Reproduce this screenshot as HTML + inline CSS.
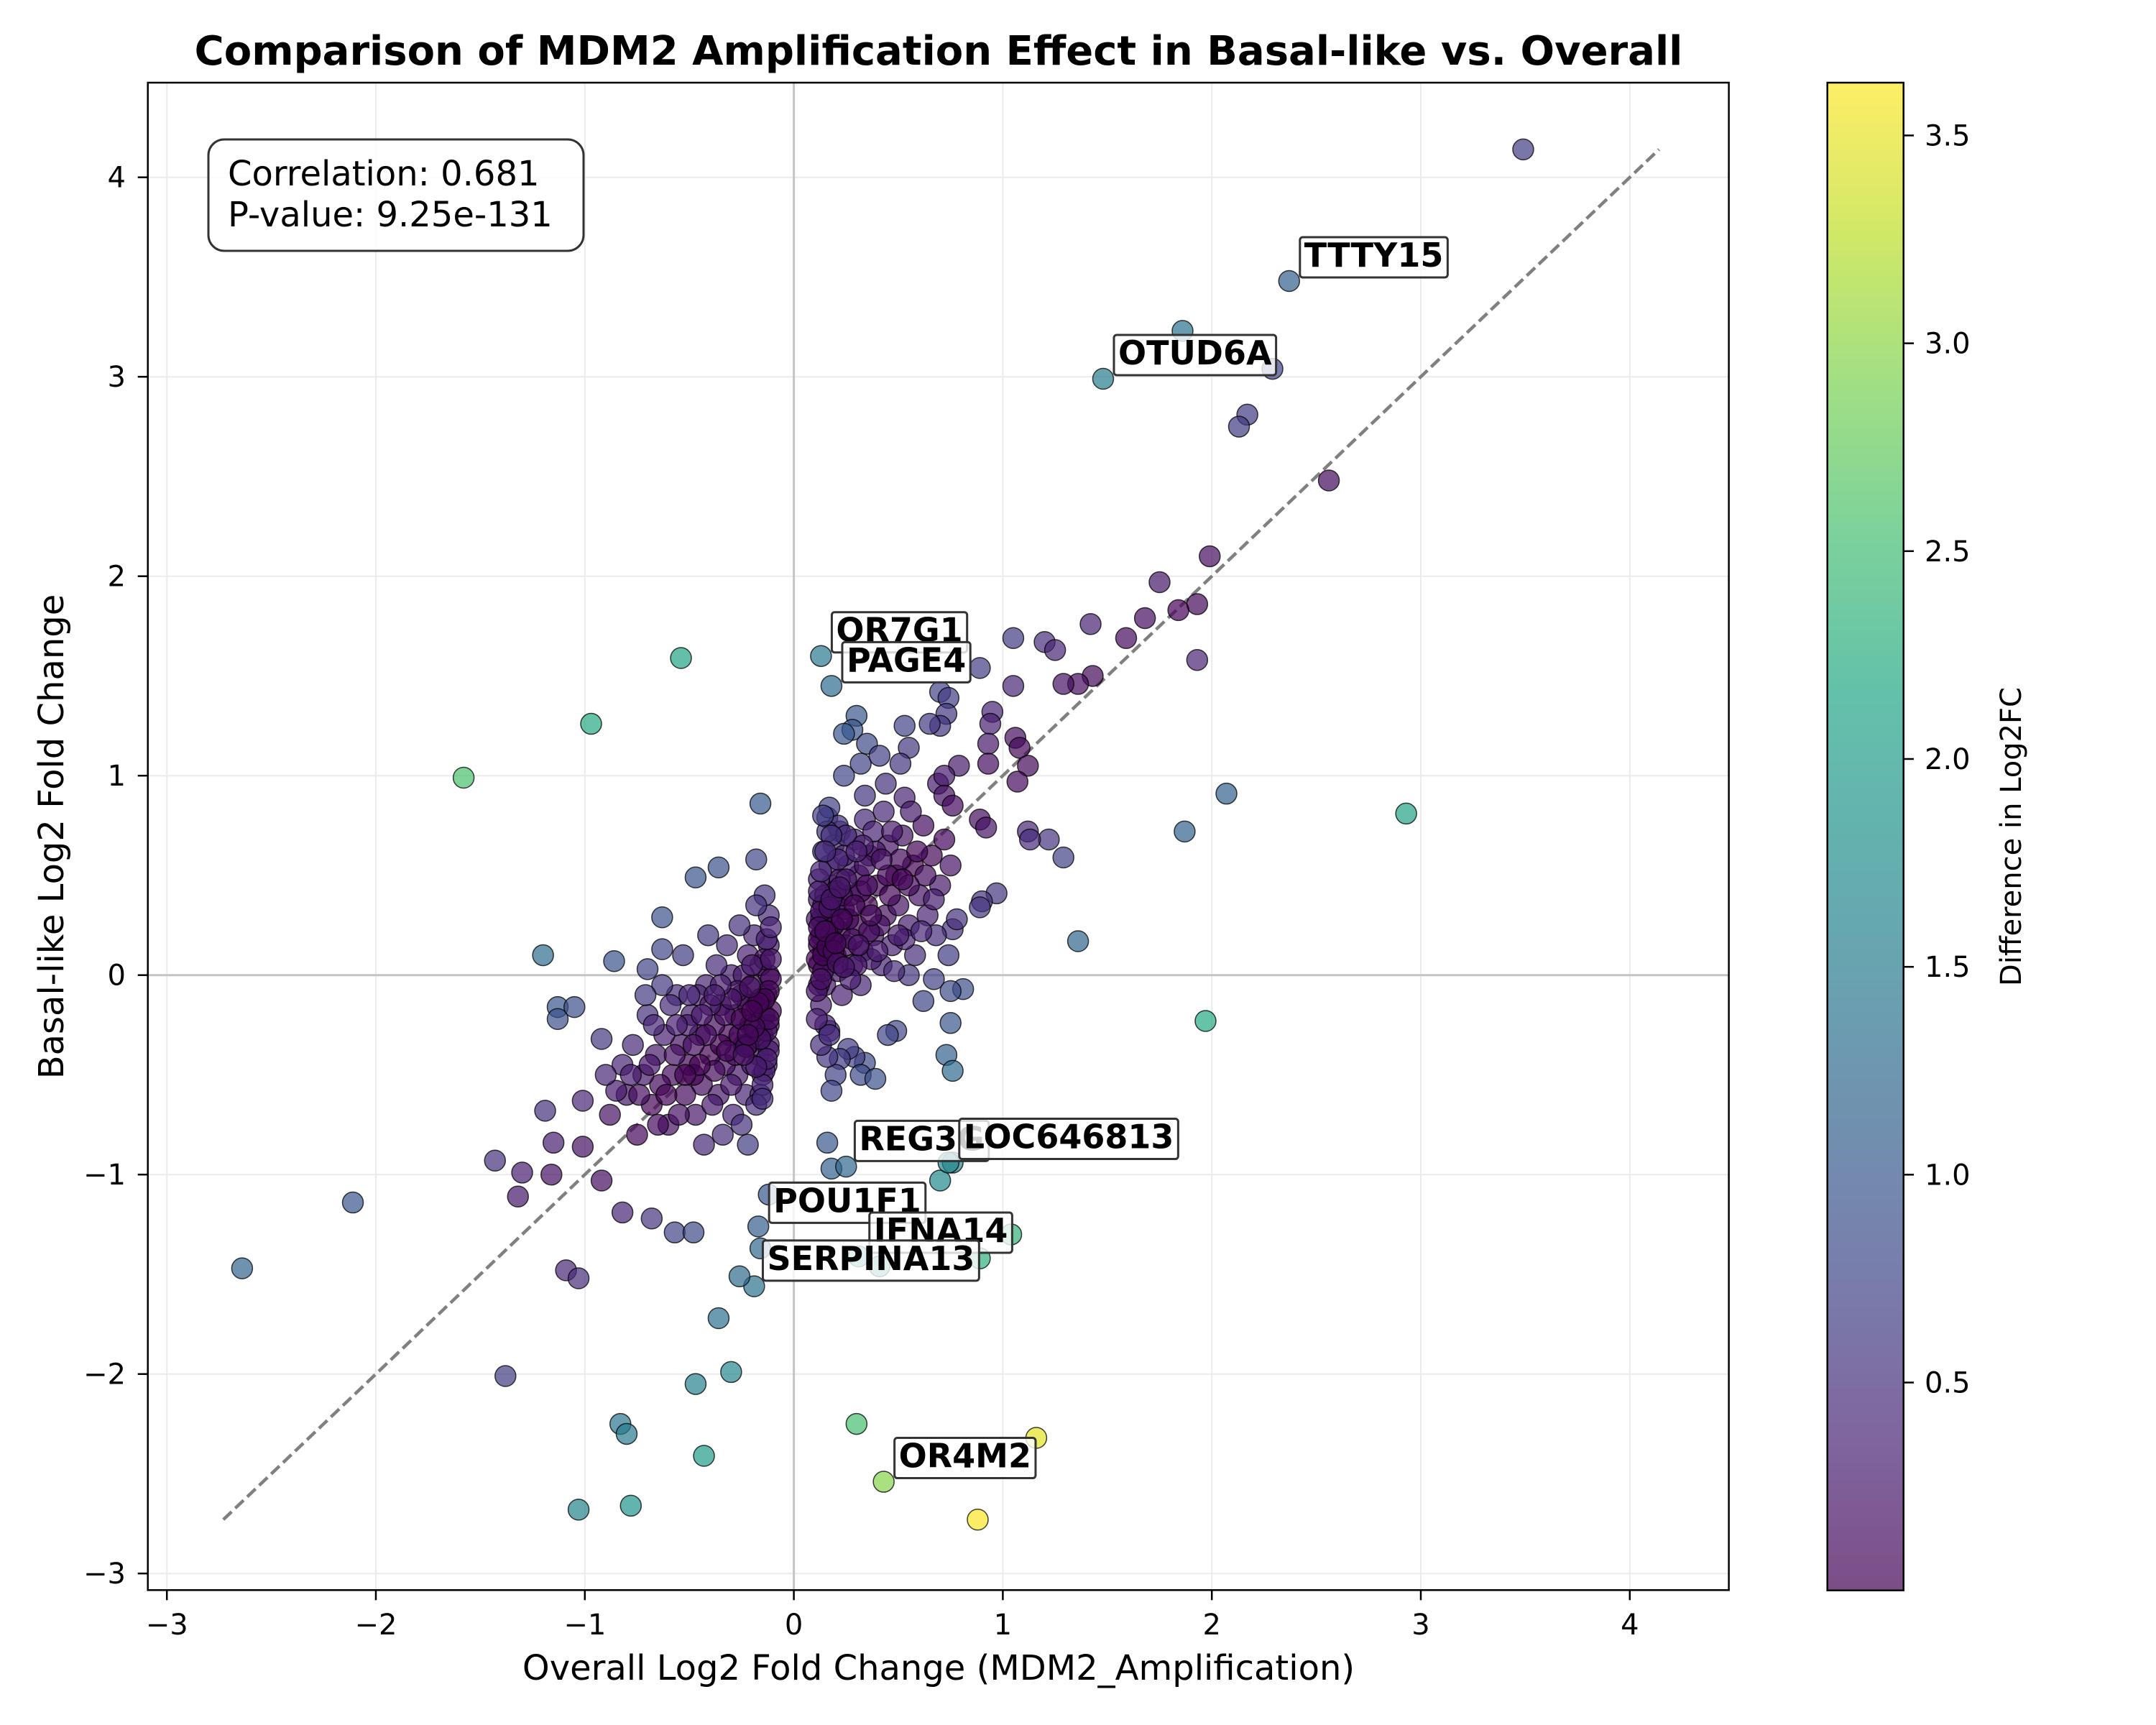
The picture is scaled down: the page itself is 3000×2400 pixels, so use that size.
<!DOCTYPE html>
<html><head><meta charset="utf-8"><style>html,body{margin:0;padding:0;background:#fff}svg{display:block}text{font-family:"DejaVu Sans","Liberation Sans",sans-serif}</style></head>
<body>
<svg id="chart" width="3000" height="2400" viewBox="0 0 3000 2400" xmlns="http://www.w3.org/2000/svg">
<defs><linearGradient id="cbg" x1="0" y1="1" x2="0" y2="0"></linearGradient></defs>
<rect x="0" y="0" width="3000" height="2400" fill="#fff"/>
<text x="1306" y="90" font-size="56" font-weight="bold" text-anchor="middle">Comparison of MDM2 Amplification Effect in Basal-like vs. Overall</text>
<g id="grid"></g>
<g id="pts"></g>
<g id="labels"></g>
<rect x="205.7" y="115" width="2199.9" height="2097.3" fill="none" stroke="#000" stroke-width="2.5"/>
<g id="axes"></g>
<text x="1306" y="2337" font-size="48" text-anchor="middle">Overall Log2 Fold Change (MDM2_Amplification)</text>
<text transform="translate(88,1164) rotate(-90)" font-size="48" text-anchor="middle">Basal-like Log2 Fold Change</text>
<g>
<rect x="290" y="194" width="522" height="155" rx="22" fill="#fff" fill-opacity="0.85" stroke="#333" stroke-width="3"/>
<text x="317" y="258" font-size="48">Correlation: 0.681</text>
<text x="317" y="315" font-size="48">P-value: 9.25e-131</text>
</g>
<rect x="2542.7" y="115" width="106" height="2097.7" fill="url(#cbg)" stroke="#000" stroke-width="2.5"/>
<g id="cbticks"></g>
<text transform="translate(2812,1164) rotate(-90)" font-size="40" text-anchor="middle">Difference in Log2FC</text>
</svg>
<script>
const overallFC=[3.49,2.37,1.86,2.29,1.48,2.17,2.13,2.56,1.99,1.75,1.93,1.84,1.68,1.59,1.42,1.93,1.20,1.25,1.05,1.43,1.36,1.29,1.05,0.89,0.13,0.18,-0.54,-0.97,-1.58,2.07,2.93,1.87,1.36,1.97,-2.11,-2.64,-1.38,-1.03,-0.78,-0.83,-0.80,-0.43,-0.47,-0.30,-0.36,0.30,1.16,0.43,0.88,-0.19,-0.26,-0.16,-0.17,-0.12,1.04,0.89,0.41,0.70,0.76,0.18,0.25,0.16,-1.09,-1.03,-1.43,-1.30,-1.32,-1.16,-1.19,-1.15,-1.01,-1.20,-1.13,-1.13,-1.05,-1.01,-0.92,-0.82,-0.68,-0.57,-0.48,-0.16,-0.18,-0.47,-0.36,-0.63,-0.63,-0.70,-0.86,-0.92,
1.06,0.95,0.94,0.93,0.93,1.08,1.12,1.07,1.12,1.22,1.29,1.13,0.89,0.92,0.97,0.90,0.89,0.76,0.74,0.81,0.67,0.75,0.75,0.73,0.76,0.49,0.45,0.34,0.29,0.26,0.32,0.39,0.22,0.20,0.18,0.16,0.17,0.55,0.62,
0.70,0.74,0.73,0.70,0.65,0.53,0.30,0.28,0.55,0.35,0.24,0.32,0.41,0.51,0.69,0.79,0.72,0.72,0.76,0.53,0.44,0.34,0.24,0.16,0.17,0.22,
0.12,0.14,0.13,0.15,0.16,0.12,0.18,0.20,0.22,0.21,0.24,0.25,0.27,0.28,0.30,0.31,0.33,0.35,0.36,0.38,0.40,0.42,0.44,0.45,0.47,0.49,0.50,0.52,0.55,0.57,0.58,0.60,0.62,0.64,0.66,0.68,0.70,0.13,0.15,0.17,0.19,0.21,0.23,0.26,0.29,0.32,0.34,0.37,0.39,0.41,0.43,0.46,0.48,0.51,0.53,0.56,0.59,0.61,0.63,0.67,0.72,0.75,0.78,0.12,0.14,0.16,0.18,0.20,0.22,0.24,0.26,0.28,0.30,0.32,0.34,0.36,0.38,0.40,0.45,0.50,0.55,0.12,0.13,0.15,0.17,0.19,0.21,0.23,0.25,0.27,0.29,0.31,0.33,0.35,0.37,0.12,0.14,0.16,0.20,0.25,0.30,0.42,0.47,0.52,0.13,0.17,0.14,0.18,
-0.12,-0.13,-0.14,-0.12,-0.15,-0.16,-0.18,-0.17,-0.20,-0.21,-0.22,-0.24,-0.25,-0.27,-0.28,-0.30,-0.31,-0.33,-0.35,-0.36,-0.38,-0.40,-0.42,-0.44,-0.45,-0.47,-0.49,-0.50,-0.52,-0.54,-0.56,-0.58,-0.60,-0.62,-0.64,-0.66,-0.68,-0.70,-0.72,-0.75,-0.77,-0.80,-0.82,-0.85,-0.88,-0.90,-0.12,-0.14,-0.15,-0.19,-0.23,-0.26,-0.29,-0.32,-0.34,-0.37,-0.39,-0.41,-0.43,-0.46,-0.48,-0.51,-0.53,-0.55,-0.57,-0.59,-0.61,-0.63,-0.65,-0.67,-0.69,-0.71,-0.74,-0.78,-0.12,-0.13,-0.16,-0.18,-0.20,-0.22,-0.24,-0.26,-0.28,-0.30,-0.33,-0.35,-0.38,-0.40,-0.42,-0.45,-0.48,-0.52,-0.56,-0.12,-0.14,-0.16,-0.18,-0.20,-0.22,-0.25,-0.27,-0.30,-0.32,-0.35,-0.38,-0.44,-0.50,-0.25,-0.22,-0.18,
0.74,0.31,
0.11,0.12,0.11,0.13,0.12,0.14,0.11,0.13,0.15,0.12,0.14,0.16,0.11,0.13,0.15,0.17,0.19,0.21,0.23,0.18,0.20,0.22,0.24,
-0.11,-0.12,-0.11,-0.13,-0.12,-0.14,-0.11,-0.13,-0.15,-0.12,-0.14,-0.16,-0.11,-0.13,-0.15,-0.17,-0.19,-0.21,-0.23,-0.18,-0.20,-0.22,-0.24];
const basalFC=[4.14,3.48,3.23,3.04,2.99,2.81,2.75,2.48,2.10,1.97,1.86,1.83,1.79,1.69,1.76,1.58,1.67,1.63,1.69,1.50,1.46,1.46,1.45,1.54,1.60,1.45,1.59,1.26,0.99,0.91,0.81,0.72,0.17,-0.23,-1.14,-1.47,-2.01,-2.68,-2.66,-2.25,-2.30,-2.41,-2.05,-1.99,-1.72,-2.25,-2.32,-2.54,-2.73,-1.56,-1.51,-1.37,-1.26,-1.10,-1.30,-1.42,-1.46,-1.03,-0.94,-0.97,-0.96,-0.84,-1.48,-1.52,-0.93,-0.99,-1.11,-1.00,-0.68,-0.84,-0.86,0.10,-0.16,-0.22,-0.16,-0.63,-1.03,-1.19,-1.22,-1.29,-1.29,0.86,0.58,0.49,0.54,0.29,0.13,0.03,0.07,-0.32,
1.19,1.32,1.26,1.16,1.06,1.14,1.05,0.97,0.72,0.68,0.59,0.68,0.78,0.74,0.41,0.37,0.34,0.23,0.10,-0.07,-0.02,-0.08,-0.24,-0.40,-0.48,-0.28,-0.30,-0.44,-0.41,-0.37,-0.50,-0.52,-0.42,-0.50,-0.58,-0.41,-0.28,0.0,-0.13,
1.42,1.39,1.31,1.25,1.26,1.25,1.30,1.23,1.14,1.16,1.21,1.06,1.10,1.06,0.96,1.05,1.0,0.90,0.85,0.89,0.96,0.90,1.0,0.79,0.84,0.72,
0.05,0.12,0.20,-0.05,0.30,0.38,0.45,0.10,0.22,0.02,0.33,0.15,0.40,0.05,0.25,0.50,0.12,0.35,0.60,0.20,0.45,0.05,0.30,0.65,0.15,0.50,0.35,0.70,0.25,0.55,0.10,0.40,0.75,0.30,0.60,0.20,0.45,-0.15,-0.25,0.55,0.65,0.75,-0.10,0.55,0.68,-0.05,0.78,0.08,0.62,0.25,0.82,0.40,0.02,0.58,0.18,0.82,0.62,0.22,0.50,0.38,0.68,0.55,0.28,0.48,0.62,0.72,0.18,0.35,0.48,0.60,0.28,0.18,0.05,0.42,0.55,0.22,0.72,0.12,0.50,0.20,0.45,0.15,0.28,0.40,0.08,0.25,0.58,0.40,0.70,-0.02,0.35,0.15,0.65,0.45,0.30,-0.05,0.35,0.22,0.42,0.48,0.62,0.58,0.72,0.48,-0.35,-0.30,0.80,0.70,
0.0,-0.10,-0.20,0.15,-0.30,0.05,-0.15,-0.40,-0.05,-0.25,0.10,-0.35,-0.10,-0.50,-0.20,0.0,-0.30,-0.45,-0.15,-0.60,-0.25,-0.40,-0.05,-0.55,-0.30,-0.70,-0.20,-0.45,-0.60,-0.35,-0.10,-0.50,-0.75,-0.30,-0.55,-0.40,-0.65,-0.20,-0.50,-0.80,-0.35,-0.60,-0.45,-0.58,-0.70,-0.50,0.30,0.40,-0.50,0.20,-0.60,0.25,-0.70,0.15,-0.80,0.05,-0.65,0.20,-0.85,-0.10,-0.50,-0.25,0.10,-0.70,-0.40,-0.15,-0.60,-0.05,-0.75,-0.25,-0.45,-0.10,-0.60,-0.50,-0.35,-0.45,-0.60,0.35,-0.45,-0.15,0.0,-0.30,-0.40,-0.55,-0.20,-0.35,-0.48,-0.15,-0.30,-0.45,-0.35,-0.50,-0.25,-0.25,0.08,-0.12,-0.28,0.05,-0.35,-0.22,-0.08,-0.12,-0.38,-0.05,-0.10,-0.20,-0.10,-0.75,-0.85,-0.65,
-0.94,-1.41,
0.08,0.18,0.28,0.32,0.42,0.02,-0.08,0.52,0.62,0.24,0.10,0.14,-0.22,-0.02,0.22,0.34,0.12,0.06,0.28,0.38,0.16,0.44,0.04,
-0.02,-0.08,-0.18,-0.28,-0.38,-0.48,0.08,0.18,-0.55,-0.22,-0.12,-0.32,0.24,-0.42,-0.62,-0.14,-0.26,-0.06,-0.36,-0.46,-0.18,-0.30,-0.40];
const geneNames=["TTTY15","OTUD6A","OR7G1","PAGE4","REG3G","LOC646813","POU1F1","IFNA14","SERPINA13","OR4M2"];
const geneX=[2.37,1.48,0.13,0.18,0.24,0.74,-0.17,0.31,-0.20,0.43];
const geneY=[3.48,2.99,1.60,1.45,-0.95,-0.94,-1.26,-1.41,-1.55,-2.54];
const xTicks=[-3,-2,-1,0,1,2,3,4];
const yTicks=[-3,-2,-1,0,1,2,3,4];
const cbTicks=[0.5,1.0,1.5,2.0,2.5,3.0,3.5];
const NS="http://www.w3.org/2000/svg";
const X0=205.7,X1=2405.6,Y0=115,Y1=2212.3;
function sx(v){return 1104.6+v*290.8;}
function sy(v){return 1356.7-v*277.5;}
const CMIN=0,CMAX=3.627;
function cy(v){return 2212.7-(v-CMIN)/(CMAX-CMIN)*(2212.7-115);}
const VIR=[[68,1,84],[72,35,116],[64,67,135],[52,94,141],[41,120,142],[32,144,140],[34,167,132],[68,190,112],[121,209,81],[189,222,38],[253,231,37]];
function vir(t){t=Math.max(0,Math.min(1,t));const p=t*(VIR.length-1),i=Math.min(VIR.length-2,Math.floor(p)),f=p-i;const c=VIR[i].map((a,k)=>Math.round(a+(VIR[i+1][k]-a)*f));return `rgb(${c[0]},${c[1]},${c[2]})`;}
function mk(tag,attrs,parent){const e=document.createElementNS(NS,tag);for(const k in attrs)e.setAttribute(k,attrs[k]);parent.appendChild(e);return e;}
const grid=document.getElementById('grid');
xTicks.forEach(t=>{const l=mk('line',{x1:sx(t),x2:sx(t),y1:Y0,y2:Y1,stroke:'#ebebeb','stroke-width':2},grid);

});
yTicks.forEach(t=>{const l=mk('line',{x1:X0,x2:X1,y1:sy(t),y2:sy(t),stroke:'#ebebeb','stroke-width':2},grid);

});
const z1=mk('line',{x1:sx(0),x2:sx(0),y1:Y0,y2:Y1,stroke:'#c4c4c4','stroke-width':3},grid);


const z2=mk('line',{x1:X0,x2:X1,y1:sy(0),y2:sy(0),stroke:'#c4c4c4','stroke-width':3},grid);


const allX=overallFC.concat(basalFC);
const mn=Math.min(...allX),mx=Math.max(...allX);
const diag=mk('line',{x1:sx(mn),y1:sy(mn),x2:sx(mx),y2:sy(mx),stroke:'#808080','stroke-width':4.5,'stroke-dasharray':'16,7'},grid);


const pts=document.getElementById('pts');
const n=Math.min(overallFC.length,basalFC.length);
for(let i=0;i<n;i++){const d=Math.abs(basalFC[i]-overallFC[i]);
const c=mk('circle',{cx:sx(overallFC[i]),cy:sy(basalFC[i]),r:14.5,fill:vir((d-CMIN)/(CMAX-CMIN)),'fill-opacity':0.7,stroke:'#000','stroke-opacity':0.75,'stroke-width':1.5},pts);

}
const lab=document.getElementById('labels');
geneNames.forEach((g,i)=>{const x=sx(geneX[i])+21,y=sy(geneY[i])-20;
const t=mk('text',{x:x,y:y,'font-size':46,'font-weight':'bold'},lab);t.textContent=g;


let w=t.getComputedTextLength?t.getComputedTextLength():g.length*30;
const r=document.createElementNS(NS,'rect');
r.setAttribute('x',x-6);r.setAttribute('y',y-41);r.setAttribute('width',w+12);r.setAttribute('height',56);r.setAttribute('rx',4);
r.setAttribute('fill','#fff');r.setAttribute('fill-opacity',0.8);r.setAttribute('stroke','#333');r.setAttribute('stroke-width',3);


lab.insertBefore(r,t);});
const axes=document.getElementById('axes');
xTicks.forEach(t=>{const l=mk('line',{x1:sx(t),x2:sx(t),y1:Y1,y2:Y1+14,stroke:'#000','stroke-width':2.5},axes);


const tx=mk('text',{x:sx(t),y:2274,'font-size':40,'text-anchor':'middle'},axes);tx.textContent=(t<0?'\u2212'+(-t):t);

});
yTicks.forEach(t=>{const l=mk('line',{x1:X0-14,x2:X0,y1:sy(t),y2:sy(t),stroke:'#000','stroke-width':2.5},axes);


const tx=mk('text',{x:175,y:sy(t)+14,'font-size':40,'text-anchor':'end'},axes);tx.textContent=(t<0?'\u2212'+(-t):t);

});
const g=document.getElementById('cbg');
for(let k=0;k<=10;k++){mk('stop',{offset:(k*10)+'%','stop-color':vir(k/10),'stop-opacity':0.7},g);}
const cbt=document.getElementById('cbticks');
cbTicks.forEach(t=>{const l=mk('line',{x1:2648.7,x2:2663,y1:cy(t),y2:cy(t),stroke:'#000','stroke-width':2.5},cbt);


const tx=mk('text',{x:2678,y:cy(t)+14,'font-size':40},cbt);tx.textContent=t.toFixed(1);

});
</script>
</body></html>
